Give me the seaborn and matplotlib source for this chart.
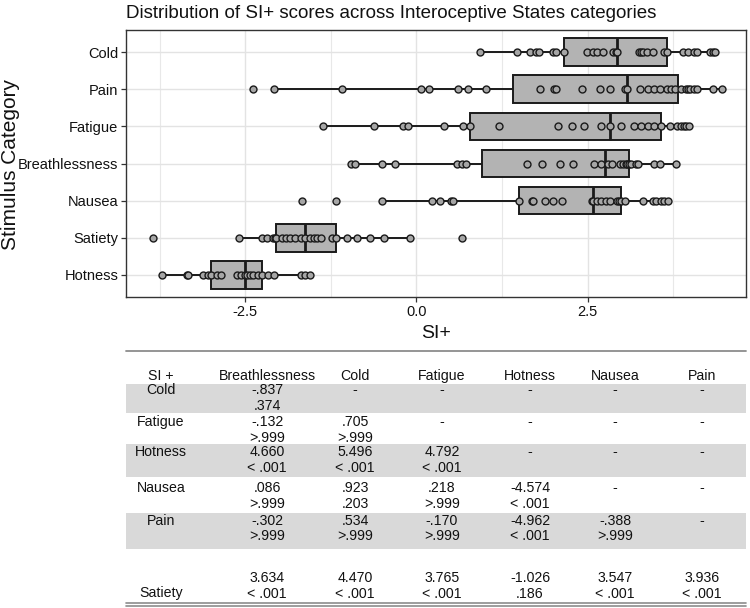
import numpy as np
import pandas as pd
import matplotlib
matplotlib.use("Agg")
import matplotlib.pyplot as plt
import seaborn as sns
from matplotlib.patches import Rectangle
from matplotlib.lines import Line2D

# ---------------- data ----------------
categories = ["Cold", "Pain", "Fatigue", "Breathlessness", "Nausea", "Satiety", "Hotness"]

cold = [0.92, 1.47, 1.66, 1.74, 1.79, 2.00, 2.04, 2.15, 2.49, 2.57, 2.64, 2.72, 2.87, 2.91,
        2.93, 3.25, 3.28, 3.30, 3.36, 3.45, 3.62, 3.66, 3.89, 3.97, 4.05, 4.10, 4.28, 4.33, 4.36]
pain = [-2.38, -2.08, -1.09, 0.06, 0.19, 0.60, 0.75, 1.02, 1.80, 2.01, 2.04, 2.41, 2.68, 2.82,
        3.04, 3.08, 3.26, 3.38, 3.47, 3.56, 3.65, 3.72, 3.78, 3.86, 3.93, 3.96, 3.99, 4.05,
        4.10, 4.33, 4.46]
fatigue = [-1.36, -0.62, -0.20, -0.12, 0.40, 0.68, 0.78, 1.20, 2.06, 2.27, 2.45, 2.69, 2.83,
           2.98, 3.18, 3.28, 3.38, 3.47, 3.57, 3.70, 3.81, 3.86, 3.90, 3.94, 3.98]
breathlessness = [-0.96, -0.90, -0.51, -0.31, 0.59, 0.66, 0.73, 1.61, 1.83, 2.10, 2.29, 2.59,
                  2.70, 2.80, 2.85, 2.97, 3.02, 3.06, 3.08, 3.10, 3.13, 3.20, 3.23, 3.47,
                  3.56, 3.79]
nausea = [-1.67, -1.18, -0.50, 0.22, 0.35, 0.50, 0.54, 1.50, 1.69, 1.70, 1.87, 1.99, 2.13,
          2.56, 2.58, 2.64, 2.70, 2.77, 2.83, 2.92, 2.96, 2.99, 3.04, 3.31, 3.45, 3.50, 3.57,
          3.62, 3.67]
satiety = [-3.85, -2.59, -2.25, -2.18, -2.10, -2.07, -2.05, -1.97, -1.91, -1.84, -1.77, -1.68,
           -1.62, -1.55, -1.50, -1.45, -1.40, -1.23, -1.17, -1.01, -0.865, -0.685, -0.475,
           -0.10, 0.67]
hotness = [-3.71, -3.35, -3.33, -3.12, -3.04, -3.00, -2.91, -2.85, -2.62, -2.56, -2.50, -2.47,
           -2.43, -2.39, -2.31, -2.25, -2.16, -2.08, -1.69, -1.62, -1.55]

series = {"Cold": cold, "Pain": pain, "Fatigue": fatigue, "Breathlessness": breathlessness,
          "Nausea": nausea, "Satiety": satiety, "Hotness": hotness}

x_ticks = [-2.5, 0.0, 2.5]
x_tick_labels = ["-2.5", "0.0", "2.5"]

title = "Distribution of SI+ scores across Interoceptive States categories"
x_title = "SI+"
y_title = "Stimulus Category"

# table
table_corner = "SI +"
table_cols = ["Breathlessness", "Cold", "Fatigue", "Hotness", "Nausea", "Pain"]
table_rows = ["Cold", "Fatigue", "Hotness", "Nausea", "Pain", "Satiety"]
table_stat = [
    ["-.837", "-", "-", "-", "-", "-"],
    ["-.132", ".705", "-", "-", "-", "-"],
    ["4.660", "5.496", "4.792", "-", "-", "-"],
    [".086", ".923", ".218", "-4.574", "-", "-"],
    ["-.302", ".534", "-.170", "-4.962", "-.388", "-"],
    ["3.634", "4.470", "3.765", "-1.026", "3.547", "3.936"],
]
table_p = [
    [".374", "", "", "", "", ""],
    [">.999", ">.999", "", "", "", ""],
    ["< .001", "< .001", "< .001", "", "", ""],
    [">.999", ".203", ">.999", "< .001", "", ""],
    [">.999", ">.999", ">.999", "< .001", ">.999", ""],
    ["< .001", "< .001", "< .001", ".186", "< .001", "< .001"],
]

# ---------------- style ----------------
sns.set_theme(style="white")
plt.rcParams["font.family"] = ["Liberation Sans", "DejaVu Sans"]

W, H = 750, 608
fig = plt.figure(figsize=(W / 100, H / 100), dpi=100)

df = pd.DataFrame([(c, v) for c in categories for v in series[c]], columns=["Category", "SI"])

ax = fig.add_axes([126 / W, 1 - 297 / H, 620 / W, 267 / H])
ax.set_axisbelow(True)

sns.boxplot(data=df, x="SI", y="Category", order=categories, color="#B3B3B3", saturation=1,
            width=0.75, showfliers=False, showcaps=False, linecolor="#1a1a1a", linewidth=1.4,
            medianprops={"linewidth": 2.0}, ax=ax)
sns.stripplot(data=df, x="SI", y="Category", order=categories, jitter=False, color="#A6A6A6",
              edgecolor="#1a1a1a", linewidth=1.0, size=5, ax=ax, zorder=4)

ax.set_xlim(-4.24, 4.81)
ax.set_ylim(6.6, -0.6)
ax.set_xticks(x_ticks)
ax.set_xticklabels(x_tick_labels)
ax.set_xticks([-3.75, -1.25, 1.25, 3.75], minor=True)
ax.grid(True, which="both", axis="both", color="#E3E3E3", linewidth=1.0)
ax.grid(True, which="minor", axis="x", color="#E8E8E8", linewidth=0.8)
ax.set_xlabel("")
ax.set_ylabel("")
for s in ax.spines.values():
    s.set_color("#333333")
    s.set_linewidth(1.0)
ax.tick_params(axis="both", which="major", bottom=True, left=True, length=3.5, width=0.9,
               color="#333333", labelsize=10.5, labelcolor="#111111", pad=2)
ax.tick_params(axis="x", which="minor", length=0)

fig.text(126 / W, 1 - 14 / H, title, ha="left", va="center", fontsize=13.5, color="#111111")
fig.text(436 / W, 1 - 334 / H, x_title, ha="center", va="center", fontsize=14, color="#111111")
fig.text(11 / W, 1 - 165 / H, y_title, ha="center", va="center", rotation=90, fontsize=15,
         color="#111111")

# ---------------- table ----------------
tax = fig.add_axes([0, 0, 1, 1], zorder=-1)
tax.set_xlim(0, W)
tax.set_ylim(H, 0)
tax.axis("off")

col_x = [267, 355, 442, 530, 615, 702]
label_x = 161
header_y = 376
line1_y = [390, 422, 452, 488, 521, 578]
line_gap = 15.5
bands = {0: (384, 413), 2: (444, 477), 4: (513, 549)}
tfs = 10.2

tax.add_line(Line2D([126, 746], [351, 351], color="#8c8c8c", lw=1.3))
tax.add_line(Line2D([126, 746], [602.5, 602.5], color="#8c8c8c", lw=1.2))
tax.add_line(Line2D([126, 746], [605.5, 605.5], color="#8c8c8c", lw=1.2))
for i, (y0, y1) in bands.items():
    tax.add_patch(Rectangle((126, y0), 620, y1 - y0, color="#D9D9D9", lw=0))

tax.text(label_x, header_y, table_corner, ha="center", va="center", fontsize=tfs, color="#111111")
for j, c in enumerate(table_cols):
    tax.text(col_x[j], header_y, c, ha="center", va="center", fontsize=tfs, color="#111111")
for i, r in enumerate(table_rows):
    ly = line1_y[i] + (line_gap if r == "Satiety" else 0)
    tax.text(label_x, ly, r, ha="center", va="center", fontsize=tfs, color="#111111")
    for j in range(len(table_cols)):
        tax.text(col_x[j], line1_y[i], table_stat[i][j], ha="center", va="center", fontsize=tfs,
                 color="#111111")
        if table_p[i][j]:
            tax.text(col_x[j], line1_y[i] + line_gap, table_p[i][j], ha="center", va="center",
                     fontsize=tfs, color="#111111")

fig.savefig("out.png", dpi=100)
